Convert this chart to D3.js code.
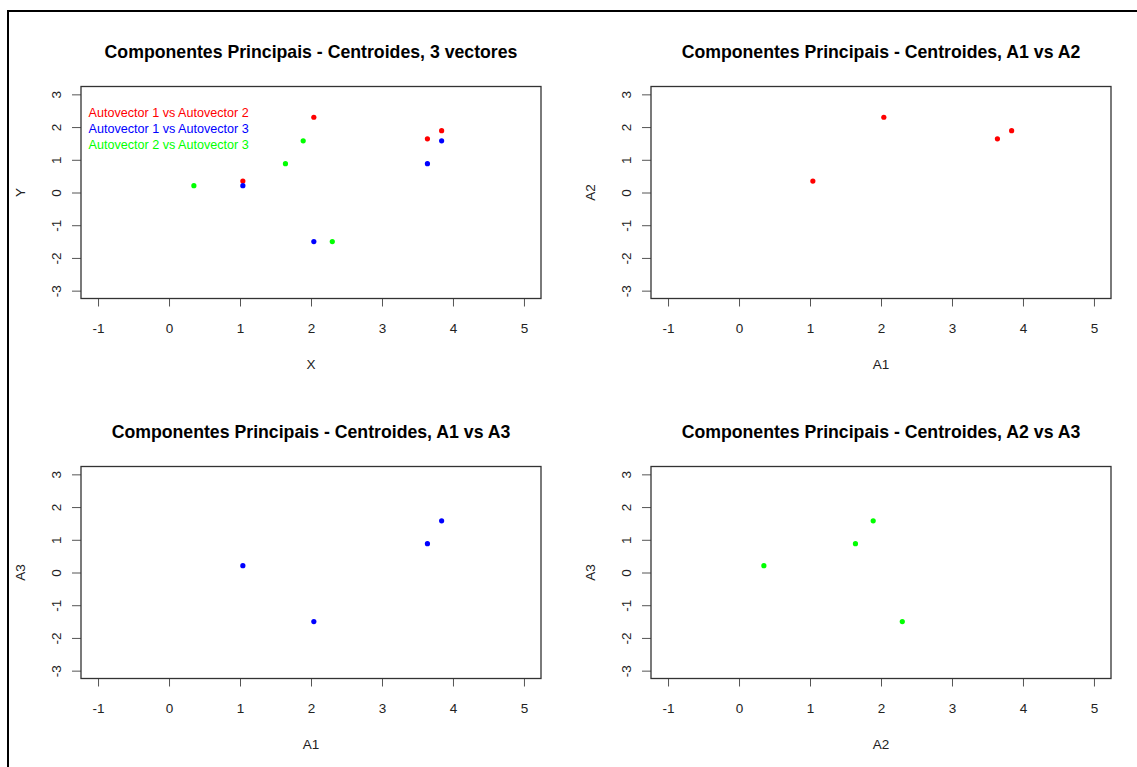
<!DOCTYPE html>
<html>
<head>
<meta charset="utf-8">
<script src="https://cdn.jsdelivr.net/npm/d3@7"></script>
<style>
  body { margin: 0; background: #fff; }
  svg { display: block; font-family: "Liberation Sans", Arial, sans-serif; }
  .tick line, .domain { stroke: #555; }
  .tick text { fill: #222; font-size: 13.5px; }
</style>
</head>
<body>
<div id="chart"></div>
<script>
// centroid coordinates on the three principal components
const a1 = [1.04, 2.04, 3.64, 3.84];
const a2 = [0.35, 2.30, 1.64, 1.89];
const a3 = [0.21, -1.50, 0.88, 1.58];
const xTicks = [-1, 0, 1, 2, 3, 4, 5];
const yTicks = [-3, -2, -1, 0, 1, 2, 3];
const legendLabels = ["Autovector 1 vs Autovector 2", "Autovector 1 vs Autovector 3", "Autovector 2 vs Autovector 3"];
const seriesColors = ["#ff0000", "#0000ff", "#00ff00"];

const pairs = (xs, ys) => xs.map((x, i) => ({x, y: ys[i]}));

const panels = [
    {title: "Componentes Principais - Centroides, 3 vectores", xLabel: "X", yLabel: "Y",
     series: [pairs(a1, a2), pairs(a1, a3), pairs(a2, a3)], colors: seriesColors, legend: true},
    {title: "Componentes Principais - Centroides, A1 vs A2", xLabel: "A1", yLabel: "A2",
     series: [pairs(a1, a2)], colors: [seriesColors[0]]},
    {title: "Componentes Principais - Centroides, A1 vs A3", xLabel: "A1", yLabel: "A3",
     series: [pairs(a1, a3)], colors: [seriesColors[1]]},
    {title: "Componentes Principais - Centroides, A2 vs A3", xLabel: "A2", yLabel: "A3",
     series: [pairs(a2, a3)], colors: [seriesColors[2]]}
];

const W = 1137, H = 767;
const plotW = 460, plotH = 212;
const origins = [[81, 86.5], [651, 86.5], [81, 466.5], [651, 466.5]];

const svg = d3.select("#chart").append("svg")
    .attr("width", W)
    .attr("height", H);

// outer device border
svg.append("rect")
    .attr("x", 8).attr("y", 11)
    .attr("width", W + 20).attr("height", H + 20)
    .attr("fill", "none")
    .attr("stroke", "#000")
    .attr("stroke-width", 2);

// R style padding of 4% on each side
const x = d3.scaleLinear().domain([-1.24, 5.24]).range([0, plotW]);
const y = d3.scaleLinear().domain([-3.24, 3.24]).range([plotH, 0]);

// plain hyphen for negatives, like R
const fmt = d => String(d);

panels.forEach((p, i) => {
    const [ox, oy] = origins[i];
    const g = svg.append("g").attr("transform", `translate(${ox},${oy})`);

    // Title
    g.append("text")
        .attr("x", plotW / 2)
        .attr("y", -34.5)
        .attr("text-anchor", "middle")
        .attr("dominant-baseline", "central")
        .style("font-size", "17.7px")
        .style("font-weight", "bold")
        .text(p.title);

    // x axis
    const xAxisG = g.append("g")
        .attr("transform", `translate(0,${plotH})`)
        .call(d3.axisBottom(x).tickValues(xTicks).tickSize(8).tickSizeOuter(0).tickFormat(fmt));
    xAxisG.selectAll(".tick text")
        .attr("y", 30)
        .attr("dy", null)
        .attr("dominant-baseline", "central");
    xAxisG.select(".domain").remove();

    // y axis, labels parallel to the axis
    const yAxisG = g.append("g")
        .call(d3.axisLeft(y).tickValues(yTicks).tickSize(9).tickSizeOuter(0).tickFormat(fmt));
    yAxisG.selectAll(".tick text")
        .attr("x", null).attr("dy", null)
        .attr("text-anchor", "middle")
        .attr("dominant-baseline", "central")
        .attr("transform", "translate(-25,0) rotate(-90)");
    yAxisG.select(".domain").remove();

    // plot box
    g.append("rect")
        .attr("width", plotW)
        .attr("height", plotH)
        .attr("fill", "none")
        .attr("stroke", "#333")
        .attr("stroke-width", 1.3);

    // axis labels
    g.append("text")
        .attr("x", plotW / 2)
        .attr("y", plotH + 66)
        .attr("text-anchor", "middle")
        .attr("dominant-baseline", "central")
        .style("font-size", "13.5px")
        .attr("fill", "#222")
        .text(p.xLabel);

    g.append("text")
        .attr("transform", `translate(-61,${plotH / 2}) rotate(-90)`)
        .attr("text-anchor", "middle")
        .attr("dominant-baseline", "central")
        .style("font-size", "13.5px")
        .attr("fill", "#222")
        .text(p.yLabel);

    // points
    p.series.forEach((s, k) => {
        g.selectAll(null)
            .data(s)
            .join("circle")
            .attr("cx", d => x(d.x))
            .attr("cy", d => y(d.y))
            .attr("r", 2.6)
            .attr("fill", p.colors[k]);
    });

    if (p.legend) {
        g.selectAll(".legend")
            .data(legendLabels)
            .join("text")
            .attr("class", "legend")
            .attr("x", 7.5)
            .attr("y", (d, k) => 26 + k * 16)
            .attr("dominant-baseline", "central")
            .style("font-size", "12.6px")
            .attr("fill", (d, k) => seriesColors[k])
            .text(d => d);
    }
});
</script>
</body>
</html>
